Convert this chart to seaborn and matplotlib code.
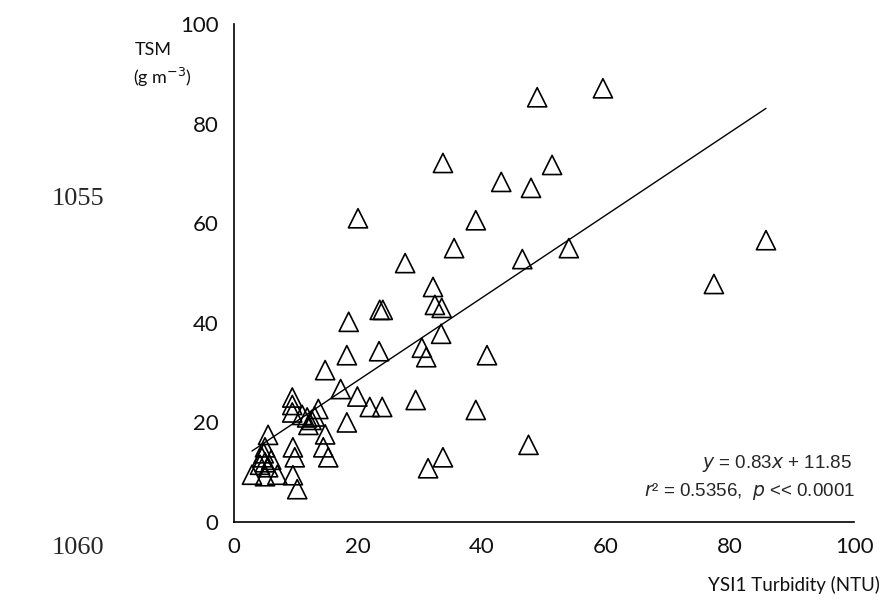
import numpy as np
import pandas as pd
import matplotlib
matplotlib.use("Agg")
import matplotlib.pyplot as plt
import seaborn as sns

# data
turbidity = [59.5, 48.9, 33.7, 51.3, 43.1, 47.9, 39.0, 20.0, 35.5, 54.0,
             46.5, 27.6, 77.4, 85.8, 32.1, 32.4, 33.5, 23.5, 24.0, 18.5,
             33.4, 18.2, 23.4, 30.3, 31.0, 40.8, 14.7, 17.2, 19.9, 21.9,
             23.9, 29.3, 39.0, 18.2, 47.5, 33.7, 31.3, 13.6, 14.7, 14.4,
             15.2, 9.4, 9.4, 9.4, 11.0, 11.8, 12.5, 12.0, 13.0, 9.5,
             9.8, 9.5, 10.2, 5.5, 5.0, 4.5, 5.0, 5.5, 4.8, 2.9,
             5.0, 7.0, 4.2, 6.0]
tsm = [87.1, 85.3, 72.1, 71.7, 68.3, 67.1, 60.6, 61.0, 55.0, 55.0,
       52.8, 52.0, 47.8, 56.6, 47.2, 43.6, 43.0, 42.6, 42.6, 40.2,
       37.8, 33.5, 34.3, 35.0, 33.1, 33.5, 30.5, 26.7, 25.2, 23.1,
       23.1, 24.5, 22.5, 20.0, 15.5, 13.0, 10.8, 22.7, 17.6, 15.0,
       13.0, 25.0, 23.5, 22.0, 21.5, 21.0, 20.5, 19.5, 21.2, 15.0,
       13.0, 9.4, 6.6, 17.5, 15.0, 13.0, 12.0, 11.0, 13.8, 9.5,
       9.2, 9.5, 11.5, 12.5]
slope = 0.83
intercept = 11.85
x_ticks = [0, 20, 40, 60, 80, 100]
y_ticks = [0, 20, 40, 60, 80, 100]

df = pd.DataFrame({"turb": turbidity, "tsm": tsm})

sns.set_style("white")
plt.rcParams["font.family"] = ["Lato", "DejaVu Sans"]

fig = plt.figure(figsize=(8.84, 6.07), dpi=100)
ax = fig.add_axes([0.2647, 0.14, 0.7014, 0.8204])

sns.scatterplot(data=df, x="turb", y="tsm", marker="^", s=190,
                facecolor="none", edgecolor="black", linewidth=1.2, ax=ax,
                zorder=3)

# trend line over the data range
xl = np.array([min(turbidity), max(turbidity)])
sns.lineplot(x=xl, y=slope * xl + intercept, color="black", linewidth=1,
             ax=ax, zorder=2)

ax.set_xlim(0, 100)
ax.set_ylim(0, 100)
ax.set_xticks(x_ticks)
ax.set_yticks(y_ticks)
ax.tick_params(axis="both", direction="out", length=6, width=1.2,
               labelsize=16, colors="#111", pad=5)
for s in ["top", "right"]:
    ax.spines[s].set_visible(False)
for s in ["left", "bottom"]:
    ax.spines[s].set_color("black")
    ax.spines[s].set_linewidth(1.2)
ax.set_xlabel("")
ax.set_ylabel("")

fig.text(0.995, 0.036, "YSI1 Turbidity (NTU)", ha="right", va="center",
         fontsize=13.5, color="#111")
fig.text(0.152, 0.918, "TSM", ha="left", va="center", fontsize=13, color="#111")
fig.text(0.150, 0.873, "(g m$^{-3}$)", ha="left", va="center", fontsize=13,
         color="#111")

ax.text(0.997, 0.118, "$y$ = 0.83$x$ + 11.85", transform=ax.transAxes,
        ha="right", va="center", fontsize=13.5, family="Liberation Sans")
ax.text(1.002, 0.062, "$r$² = 0.5356,  $p$ << 0.0001", transform=ax.transAxes,
        ha="right", va="center", fontsize=13.5, family="Liberation Sans")

fig.text(0.088, 0.672, "1055", ha="center", va="center", fontsize=19,
         family="Liberation Serif")
fig.text(0.088, 0.097, "1060", ha="center", va="center", fontsize=19,
         family="Liberation Serif")

fig.savefig("out.png", dpi=100)
